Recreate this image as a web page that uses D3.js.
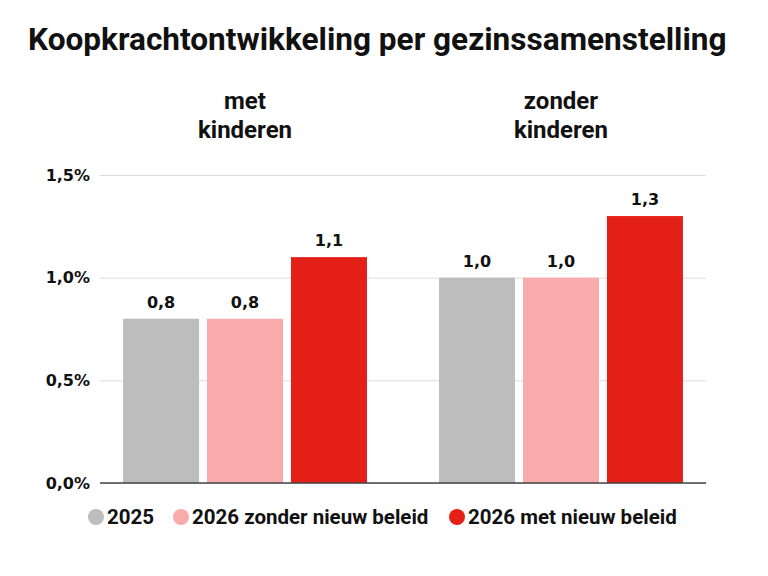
<!DOCTYPE html>
<html>
<head>
<meta charset="utf-8">
<script src="https://cdn.jsdelivr.net/npm/d3@7"></script>
<style>
  body { margin: 0; background: #fff; }
  text { font-family: Roboto, "Open Sans", sans-serif; font-weight: 700; fill: #111; }
  .num { font-family: "DejaVu Sans", Verdana, sans-serif; font-size: 16px; }
</style>
</head>
<body>
<svg id="chart" width="768" height="576"></svg>
<script>
// data
const groups = ["met kinderen", "zonder kinderen"];
const groupLines = [["met", "kinderen"], ["zonder", "kinderen"]];
const series = ["2025", "2026 zonder nieuw beleid", "2026 met nieuw beleid"];
const colors = ["#bdbdbd", "#f9abab", "#e31f17"];
const values = [
  [0.8, 0.8, 1.1],  // met kinderen
  [1.0, 1.0, 1.3]   // zonder kinderen
];
const yTicks = [0, 0.5, 1.0, 1.5];

const svg = d3.select("#chart");
const fmt = v => v.toFixed(1).replace(".", ",");

const x0 = d3.scaleBand().domain(groups).range([100, 706]).paddingInner(0.228).paddingOuter(0.073);
const x1 = d3.scaleBand().domain(series).range([0, x0.bandwidth()]).paddingInner(0.095);
const y = d3.scaleLinear().domain([0, 1.5]).range([483, 175]);

// title, fitted to width
const title = svg.append("text")
  .attr("x", 28).attr("y", 50)
  .style("font-size", "30px")
  .text("Koopkrachtontwikkeling per gezinssamenstelling");
const tw = title.node().getComputedTextLength();
title.style("font-size", (30 * 699 / tw) + "px");

// group headings
groupLines.forEach((lines, i) => {
  const cx = x0(groups[i]) + x0.bandwidth() / 2;
  const t = svg.append("text").attr("text-anchor", "middle").style("font-size", "24px");
  lines.forEach((l, j) => t.append("tspan").attr("x", cx).attr("y", 109 + j * 29).text(l));
});

// grid + y labels
const yAxis = svg.append("g")
  .attr("transform", "translate(100,0)")
  .call(d3.axisLeft(y).tickValues(yTicks).tickSize(-606).tickFormat(d => fmt(d) + "%"));
yAxis.select(".domain").remove();
yAxis.selectAll(".tick line").attr("stroke", "#dcdcdc");
yAxis.selectAll(".tick text").attr("x", -10).attr("class", "num")
  .attr("font-family", null).attr("font-size", null).attr("fill", "#111");

// bars
const g = svg.append("g").selectAll("g").data(groups).join("g")
  .attr("transform", d => `translate(${x0(d)},0)`);
const cells = (d, i) => series.map((s, j) => ({ s, j, v: values[i][j] }));
g.selectAll("rect").data(cells).join("rect")
  .attr("x", d => x1(d.s))
  .attr("width", x1.bandwidth())
  .attr("y", d => y(d.v))
  .attr("height", d => y(0) - y(d.v))
  .attr("fill", d => colors[d.j]);
g.selectAll("text.num").data(cells).join("text").attr("class", "num")
  .attr("x", d => x1(d.s) + x1.bandwidth() / 2)
  .attr("y", d => y(d.v) - 11)
  .attr("text-anchor", "middle")
  .text(d => fmt(d.v));

// baseline
svg.append("line")
  .attr("x1", 100).attr("x2", 706).attr("y1", y(0)).attr("y2", y(0))
  .attr("stroke", "#444").attr("stroke-width", 1.5);

// legend
const legendX = [96, 181, 457];
const lg = svg.append("g").selectAll("g").data(series).join("g")
  .attr("transform", (d, i) => `translate(${legendX[i]},517)`);
lg.append("circle").attr("r", 8).attr("fill", (d, i) => colors[i]);
lg.append("text").attr("x", 11).attr("dy", "0.36em")
  .style("font-size", "20.5px").text(d => d);
</script>
</body>
</html>
